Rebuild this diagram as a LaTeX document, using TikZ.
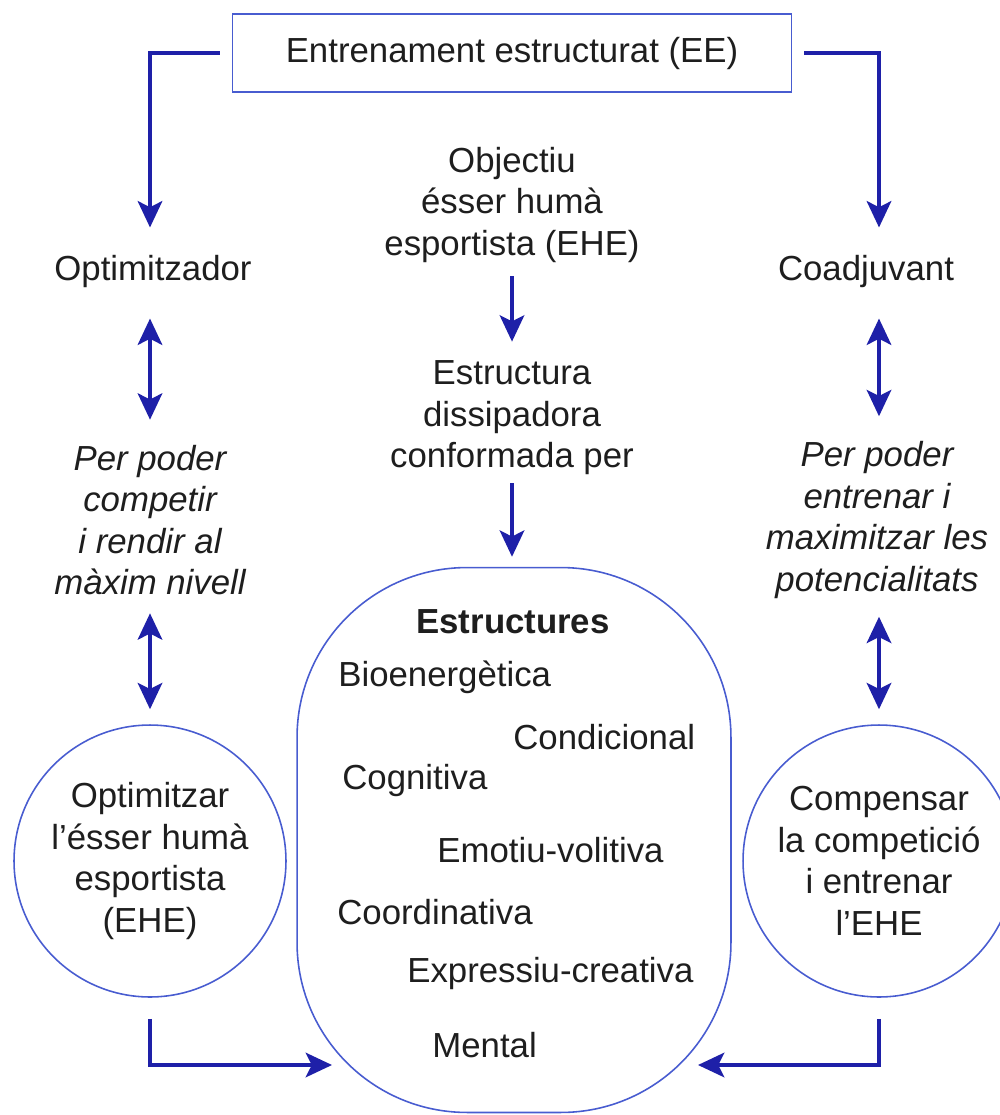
\documentclass[tikz,border=0pt]{standalone}
\usepackage{fontspec}
\setmainfont{Liberation Sans}
\usetikzlibrary{positioning, arrows.meta, calc}
\definecolor{cA}{RGB}{30,32,168}
\definecolor{cB}{RGB}{72,92,208}
\definecolor{cT}{RGB}{30,30,30}

\begin{document}
\begin{tikzpicture}[x=0.02cm, y=-0.02cm,
    every node/.style={font=\fontsize{19.8}{23.6}\selectfont, text=cT, align=center, inner sep=0pt},
    box/.style={draw=cB, line width=0.9pt, minimum width=11.18cm, minimum height=1.56cm},
    ring/.style={circle, draw=cB, line width=0.9pt, minimum size=5.44cm},
    hdr/.style={font=\fontsize{19.8}{23.6}\selectfont\bfseries},
    itm/.style={anchor=west},
    arr/.style={-{Stealth[length=15pt, width=14pt, inset=3.5pt]}, draw=cA, line width=2pt},
    dbl/.style={{Stealth[length=15pt, width=14pt, inset=3.5pt]}-{Stealth[length=15pt, width=14pt, inset=3.5pt]}, draw=cA, line width=2pt}]

    \useasboundingbox (0,0) rectangle (1000,1115);

    % Top
    \node[box] (ee) at (512, 53) {Entrenament estructurat (EE)};
    \node (opt) at (153, 272) {Optimitzador};
    \node (coad) at (866, 272) {Coadjuvant};
    \node (obj) at (512, 205) {Objectiu\\ésser humà\\esportista (EHE)};
    \node (dis) at (512, 418) {Estructura\\dissipadora\\conformada per};

    % Sides
    \node[font=\fontsize{19.8}{23.6}\selectfont\itshape] (perL) at (150, 520) {Per poder\\competir\\i rendir al\\màxim nivell};
    \node[font=\fontsize{19.8}{23.6}\selectfont\itshape] (perR) at (877, 520) {Per poder\\entrenar i\\maximitzar les\\potencialitats};
    \node[ring] (circL) at (150, 861) {Optimitzar\\l’ésser humà\\esportista\\(EHE)};
    \node[ring] (circR) at (879, 861) {Compensar\\la competició\\i entrenar\\l’EHE};

    % Structures
    \node[draw=cB, line width=0.9pt, rounded corners=3.4cm, minimum width=8.68cm, minimum height=10.9cm] (estr) at (514, 840) {};
    \node[hdr] (hd) at (513, 622) {Estructures};
    \node[itm] (s1) at (338, 677) {Bioenergètica};
    \node[itm] (s2) at (513, 737) {Condicional};
    \node[itm] (s3) at (342, 780) {Cognitiva};
    \node[itm] (s4) at (437, 850) {Emotiu-volitiva};
    \node[itm] (s5) at (337, 912) {Coordinativa};
    \node[itm] (s6) at (407, 973) {Expressiu-creativa};
    \node[itm] (s7) at (432, 1045) {Mental};
    \coordinate (inL) at (332, 1065);
    \coordinate (inR) at (698, 1065);

    % Arrows
    \draw[arr, shorten <=0.24cm, shorten >=0.56cm] (ee.west) -| (opt.north -| circL.north);
    \draw[arr, shorten <=0.24cm, shorten >=0.56cm] (ee.east) -| (coad.north -| circR.north);
    \draw[dbl, shorten <=0.6cm, shorten >=0.5cm] (opt.south -| perL.north) -- (perL.north);
    \draw[dbl, shorten <=0.36cm, shorten >=0.3cm] (perL.south) -- (circL.north);
    \draw[dbl, shorten <=0.6cm, shorten >=0.5cm] (coad.south -| circR.north) -- (perR.north -| circR.north);
    \draw[dbl, shorten <=0.36cm, shorten >=0.3cm] (perR.south -| circR.north) -- (circR.north);
    \draw[arr, shorten <=0.26cm, shorten >=0.38cm] (obj.south) -- (dis.north);
    \draw[arr, shorten <=0.16cm, shorten >=0.2cm] (dis.south) -- (dis.south |- estr.north);
    \draw[arr, shorten <=0.42cm] (circL.south) |- (inL);
    \draw[arr, shorten <=0.42cm] (circR.south) |- (inR);

\end{tikzpicture}
\end{document}
